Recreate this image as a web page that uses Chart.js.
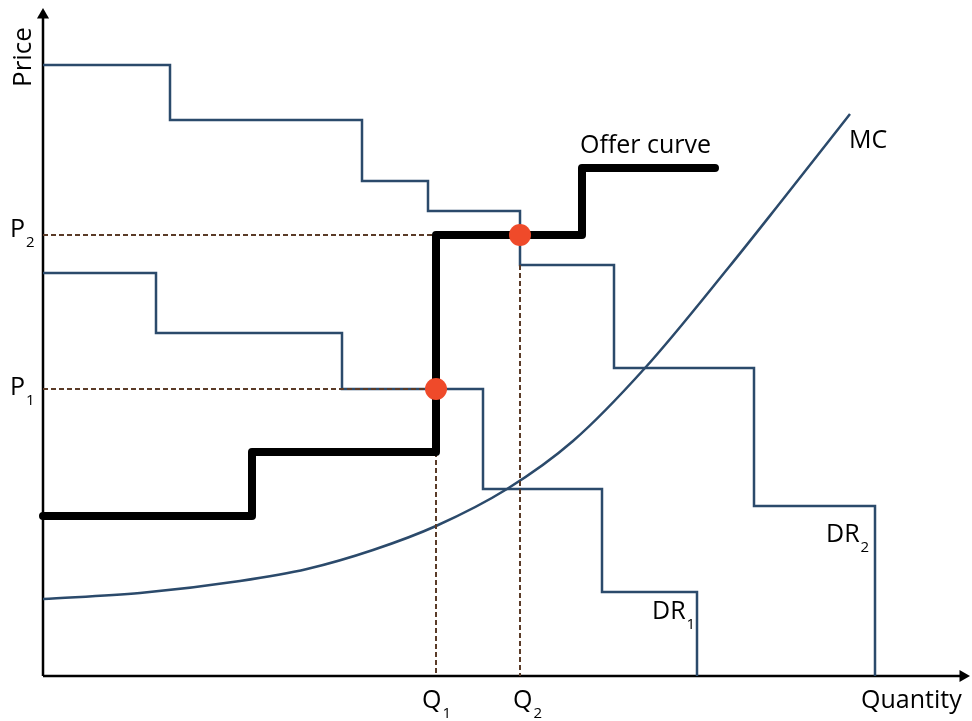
<!DOCTYPE html>
<html>
<head>
<meta charset="utf-8">
<script src="https://cdn.jsdelivr.net/npm/chart.js@4.4.1/dist/chart.umd.min.js"></script>
<style>
  body { margin: 0; background: #fff; }
  #wrap { width: 972px; height: 721px; }
</style>
</head>
<body>
<div id="wrap"><canvas id="chart"></canvas></div>
<script>
// Step curves: each point is [quantity where step starts, price], drawn horizontal-then-vertical
const dr2Steps = [[0, 611], [127, 556], [319, 495], [385, 465], [477, 411], [571, 308], [711, 170], [832, 0]];
const dr1Steps = [[0, 403], [113, 343], [299, 287], [440, 187], [559, 84], [654, 0]];
const offerSteps = [[0, 160], [209, 224], [393, 441], [539, 508], [672, 508]];

// Marginal cost curve
const mcQty = [0, 97, 197, 264, 330, 393, 464, 530, 602, 686, 737, 807];
const mcPrice = [77, 83, 95, 107, 126, 150, 187, 235, 308, 409, 473, 562];

// Equilibrium points
const q1 = 393, q2 = 477;
const p1 = 287, p2 = 441;

// Axis extent
const qMax = 920, pMax = 661;

const toPts = arr => arr.map(p => ({ x: p[0], y: p[1] }));

const navy = '#2b4a6b';
const brown = '#5a3b28';
const dot = '#ef4a2a';

// Text labels [text, subscript, q, price]
const labels = [
  ['Offer curve', '', 537, 523],
  ['MC', '', 806, 528],
  ['P', '2', -33, 439],
  ['P', '1', -33, 281],
  ['Q', '1', 379, -32],
  ['Q', '2', 470, -32],
  ['Quantity', '', 818, -32],
  ['DR', '1', 609, 57],
  ['DR', '2', 783, 134]
];

const labelPlugin = {
  id: 'labels',
  afterDatasetsDraw(chart) {
    const ctx = chart.ctx;
    const xs = chart.scales.x, ys = chart.scales.y;
    ctx.save();
    ctx.fillStyle = '#000';
    ctx.textBaseline = 'alphabetic';
    ctx.textAlign = 'left';
    labels.forEach(l => {
      const x = xs.getPixelForValue(l[2]);
      const y = ys.getPixelForValue(l[3]);
      ctx.font = '25px "Open Sans"';
      ctx.fillText(l[0], x, y);
      if (l[1]) {
        const w = ctx.measureText(l[0]).width;
        ctx.font = '15px "Open Sans"';
        ctx.fillText(l[1], x + w + 1, y + 10);
      }
    });
    // rotated axis title
    ctx.translate(xs.getPixelForValue(-12), ys.getPixelForValue(589));
    ctx.rotate(-Math.PI / 2);
    ctx.font = '26px "Open Sans"';
    ctx.fillText('Price', 0, 0);
    ctx.restore();
  }
};

new Chart(document.getElementById('chart'), {
  type: 'scatter',
  data: {
    datasets: [
      {
        data: [{ x: q1, y: p1 }, { x: q2, y: p2 }],
        pointRadius: 11,
        pointBackgroundColor: dot,
        pointBorderWidth: 0,
        showLine: false
      },
      {
        data: toPts(offerSteps),
        showLine: true,
        stepped: 'before',
        borderColor: '#000',
        borderWidth: 8,
        borderJoinStyle: 'round',
        borderCapStyle: 'round',
        pointRadius: 0
      },
      {
        data: [{ x: 0, y: p2 }, { x: q1, y: p2 }],
        showLine: true, borderColor: brown, borderWidth: 2, borderDash: [5, 3], pointRadius: 0
      },
      {
        data: [{ x: 0, y: p1 }, { x: q1, y: p1 }],
        showLine: true, borderColor: brown, borderWidth: 2, borderDash: [5, 3], pointRadius: 0
      },
      {
        data: [{ x: q1, y: offerSteps[1][1] }, { x: q1, y: 0 }],
        showLine: true, borderColor: brown, borderWidth: 2, borderDash: [5, 3], pointRadius: 0
      },
      {
        data: [{ x: q2, y: dr2Steps[4][1] }, { x: q2, y: 0 }],
        showLine: true, borderColor: brown, borderWidth: 2, borderDash: [5, 3], pointRadius: 0
      },
      {
        data: mcQty.map((q, i) => ({ x: q, y: mcPrice[i] })),
        showLine: true,
        cubicInterpolationMode: 'monotone',
        borderColor: navy,
        borderWidth: 2.5,
        pointRadius: 0
      },
      {
        data: toPts(dr2Steps),
        showLine: true, stepped: 'before', borderColor: navy, borderWidth: 2.5, pointRadius: 0
      },
      {
        data: toPts(dr1Steps),
        showLine: true, stepped: 'before', borderColor: navy, borderWidth: 2.5, pointRadius: 0
      },
      // axes with arrowheads
      {
        data: [{ x: 0, y: 0 }, { x: 0, y: pMax }],
        showLine: true, borderColor: '#000', borderWidth: 2.5,
        pointStyle: 'triangle', pointRadius: [0, 7], pointRotation: 0,
        pointBackgroundColor: '#000', pointBorderWidth: 0
      },
      {
        data: [{ x: 0, y: 0 }, { x: qMax, y: 0 }],
        showLine: true, borderColor: '#000', borderWidth: 2.5,
        pointStyle: 'triangle', pointRadius: [0, 7], pointRotation: 90,
        pointBackgroundColor: '#000', pointBorderWidth: 0
      }
    ]
  },
  options: {
    responsive: true,
    maintainAspectRatio: false,
    animation: false,
    layout: { padding: 0, autoPadding: false },
    plugins: {
      legend: { display: false },
      tooltip: { enabled: false }
    },
    scales: {
      x: { type: 'linear', min: -43, max: 929, display: false },
      y: { type: 'linear', min: -45, max: 676, display: false }
    }
  },
  plugins: [labelPlugin]
});
</script>
</body>
</html>
